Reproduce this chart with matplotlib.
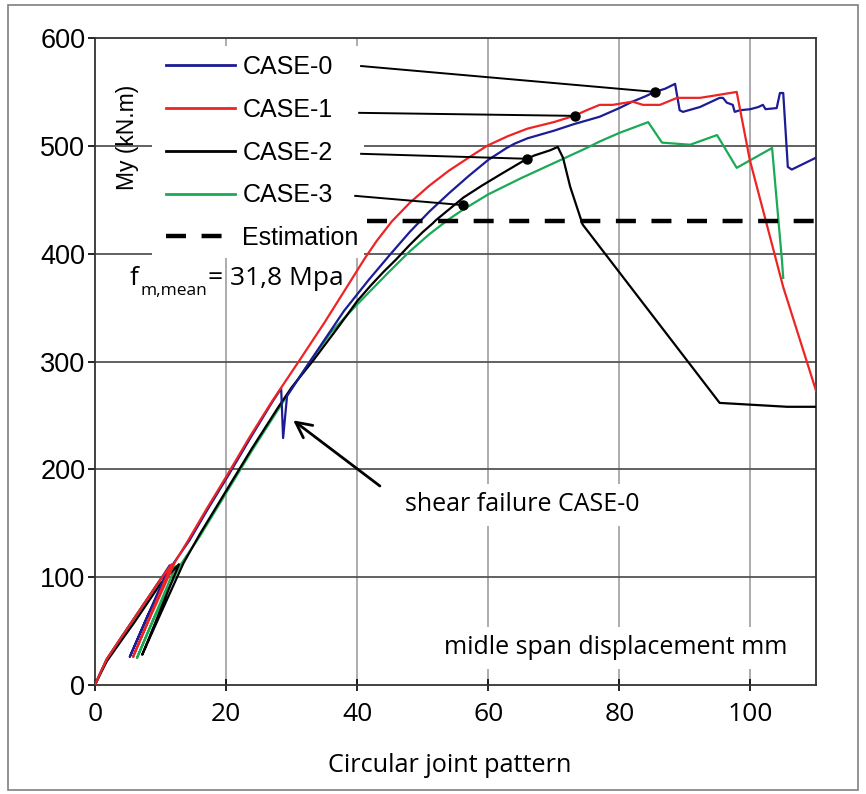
import matplotlib
matplotlib.use("Agg")
import matplotlib.pyplot as plt
from matplotlib.lines import Line2D
from matplotlib.patches import Rectangle

# ---------------- data ----------------
case0_x = [0, 0.8, 1.8, 4, 6, 8, 10, 11.4, 5.3, 8, 12.0, 14.4, 17.2, 20.2, 23.8, 27.0, 28.4, 28.7, 29.3,
           31.8, 35.0, 38.0, 41.8, 45, 48, 51, 54, 57, 60, 62.8, 64, 66, 70, 73, 77, 80, 82, 84, 85.4, 87, 88.5,
           89.2, 89.7, 92.3, 95.3, 95.8, 96.4, 97.3, 97.6, 98.4, 100, 101.2, 101.9, 102.3, 104, 104.5,
           105, 105.7, 106.3, 110]
case0_y = [0, 11, 24, 44, 62, 80, 98, 111, 26, 64, 113, 134, 163, 193, 230, 262, 275, 229, 268,
           291, 320, 347, 376, 399, 420, 439, 456, 472, 487, 498, 502, 507, 514, 520, 527, 535, 541, 546, 550, 553, 557.5,
           533, 531.5, 536, 544.5, 544.5, 540, 538, 531.5, 533, 534, 536, 538, 534, 535, 549,
           549, 480.5, 478, 489]

case1_x = [0, 0.8, 1.8, 4, 6, 8, 10, 11.7, 5.8, 8.5, 12.2, 14.2, 17, 20, 23.6, 27, 31.3, 35, 38, 41.2,
           43, 45.3, 48, 51, 54, 57, 59.8, 63, 66, 70, 73.2, 75, 77, 79, 82, 83.6, 86.2, 88.8, 92.3,
           94.9, 97.9, 99.9, 105, 110]
case1_y = [0, 11, 24, 44, 62, 80, 98, 112, 26, 64, 114, 134, 163, 193, 230, 263, 302, 336, 365, 396,
           412, 430, 447, 463, 477, 489, 500, 509, 516, 522, 528, 533, 538, 538, 541, 538, 538, 544.5, 544.5,
           547, 550, 487, 369, 273]

case2_x = [0, 0.8, 1.8, 4, 6, 8, 10, 12.8, 7.2, 10, 13.5, 16, 20, 24, 28, 30, 33.3, 37, 40, 42, 44, 46,
           48, 50, 51.5, 52, 54, 56.2, 59, 62, 65.9, 67, 68.5, 69.5, 70.6, 71.4, 72.5, 74.4, 95.3, 105.6, 110]
case2_y = [0, 10, 22, 41, 58, 76, 94, 112, 28, 66, 113, 140, 180, 220, 258, 276, 301, 331, 356, 370, 383, 395,
           408, 420, 428, 431, 441, 452, 463, 474, 488, 491, 494, 496, 499, 489, 462, 427, 261.6, 258, 258]

case3_x = [0, 0.8, 1.8, 4, 6, 8, 10, 12.3, 6.4, 9, 13, 16, 20, 24, 28, 30, 32.8, 36, 40, 45, 48, 51,
           54, 56.2, 60, 65, 70, 75, 77, 80, 84.4, 86.5, 90.8, 94.9, 97.9, 103.3, 104.8, 105]
case3_y = [0, 11, 24, 44, 62, 80, 98, 110, 25, 62, 111, 138, 178, 218, 256, 275, 300, 327, 353, 384, 402, 418,
           432, 441, 455, 470, 484, 498, 504, 512, 522, 503, 501, 510, 479.6, 498, 394, 377.5]

estimation_value = 430
estimation_x = [41.5, 110]

dot_x = [85.4, 73.2, 65.9, 56.2]
dot_y = [550, 527.8, 488, 445]

case_labels = ["CASE-0", "CASE-1", "CASE-2", "CASE-3"]
x_ticks = [0, 20, 40, 60, 80, 100]
y_ticks = [0, 100, 200, 300, 400, 500, 600]

colors = ["#1c1c94", "#ee2424", "#000000", "#1aaa55"]

fig = plt.figure(figsize=(8.66, 7.94), dpi=100)
ax = fig.add_axes([95/866, 1-685/794, (816-95)/866, (685-38)/794])
ax.set_xlim(0, 110)
ax.set_ylim(0, 600)

# grid
for xv in x_ticks[1:]:
    ax.axvline(xv, color="#a6a6a6", lw=1.3, zorder=0.5)
for yv in y_ticks[1:-1]:
    ax.axhline(yv, color="#555555", lw=1.3, zorder=0.6)

# white area behind legend
ax.add_patch(Rectangle((8.7, 396), 32.3, 197, facecolor="white", edgecolor="none", zorder=1))

series = [(case0_x, case0_y), (case1_x, case1_y), (case2_x, case2_y), (case3_x, case3_y)]
order = [3, 2, 0, 1]
for i in order:
    xs, ys = series[i]
    ax.plot(xs, ys, color=colors[i], lw=1.6, zorder=3)

ax.plot(estimation_x, [estimation_value, estimation_value], color="black", lw=3.2,
        dashes=(4.5, 3.5), zorder=3)

# leader lines and dots
lead_start = [(40.6, 574), (40.3, 530.6), (40.6, 492.6), (39.7, 453.6)]
for (sx, sy), dx, dy in zip(lead_start, dot_x, dot_y):
    ax.plot([sx, dx], [sy, dy], color="black", lw=1.4, zorder=4)
ax.plot(dot_x, dot_y, "o", color="black", ms=6.5, zorder=5)

for s in ax.spines.values():
    s.set_color("#333333")
    s.set_linewidth(1.3)

ax.set_xticks(x_ticks)
ax.set_yticks(y_ticks)
ax.tick_params(axis="y", direction="out", length=5, width=1.2, pad=2, labelsize=19.5)
ax.tick_params(axis="x", direction="inout", length=9, width=1.2, pad=8, labelsize=19)
for lab in ax.get_yticklabels():
    lab.set_fontfamily("Liberation Sans")
for lab in ax.get_xticklabels():
    lab.set_fontfamily("Open Sans")

ax.set_xlabel("Circular joint pattern", fontfamily="Open Sans", fontsize=18.2, labelpad=17)
ax.xaxis.set_label_coords(0.492, -0.105)

ax.text(4.9, 508, "My (kN.m)", rotation=90, ha="center", va="center",
        fontfamily="Liberation Sans", fontsize=16.5, zorder=6)

handles = [Line2D([], [], color=colors[i], lw=2) for i in range(4)]
handles.append(Line2D([], [], color="black", lw=3.2, dashes=(4.5, 3.5)))
leg = ax.legend(handles, case_labels + ["Estimation"], loc="upper left",
                bbox_to_anchor=((166-95)/721, (685-55)/647), frameon=False,
                prop={"family": "Liberation Sans", "size": 18}, handlelength=2.75,
                handletextpad=0.3, labelspacing=0.75, borderpad=0, borderaxespad=0)
leg.set_zorder(7)

# f_m,mean annotation
ax.text(5.3, 371.4, "f", fontfamily="Open Sans", fontsize=19, ha="left", va="baseline", zorder=6)
ax.text(6.9, 361.5, "m,mean", fontfamily="Open Sans", fontsize=12.5, ha="left", va="baseline", zorder=6)
ax.text(17.2, 371.4, "= 31,8 Mpa", fontfamily="Open Sans", fontsize=19, ha="left", va="baseline", zorder=6)

ax.text(105.7, 34.4, "midle span displacement mm", fontfamily="Open Sans", fontsize=18,
        ha="right", va="center", zorder=6,
        bbox=dict(facecolor="white", edgecolor="none", pad=6))

ax.text(47.3, 167, "shear failure CASE-0", fontfamily="Open Sans", fontsize=18,
        ha="left", va="center", zorder=6,
        bbox=dict(facecolor="white", edgecolor="none", pad=6))
ax.annotate("", xy=(29.9, 247), xytext=(43.8, 183),
            arrowprops=dict(arrowstyle="->", lw=2, color="black", mutation_scale=28), zorder=6)

fig.patches.append(Rectangle((8/866, 4/794), 850/866, 785/794, transform=fig.transFigure,
                             fill=False, edgecolor="#7f7f7f", lw=1.2))

fig.savefig("out.png", dpi=100)
